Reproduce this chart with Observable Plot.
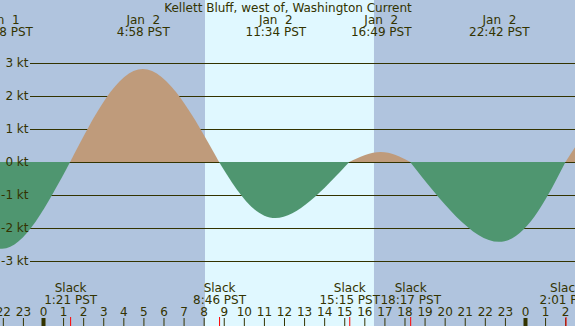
<!DOCTYPE html>
<html><head><meta charset="utf-8">
<script src="https://cdn.jsdelivr.net/npm/d3@7"></script>
<script src="https://cdn.jsdelivr.net/npm/@observablehq/plot@0.6"></script>
<style>
html,body{margin:0;padding:0;background:#b0c4de;overflow:hidden}
svg text{white-space:pre}
</style></head><body><div id="chart"></div>
<script>
const title = "Kellett Bluff, west of, Washington Current";
// hours relative to Jan 2 00:00 PST; slack = 0 kt, alternating with maxima
const eventHours  = [-5.1, -2.033, 1.35, 4.967, 8.767, 11.567, 15.25, 16.817, 18.283, 22.7, 26.017, 29.6, 33.0];
const eventValues = [0, -2.63, 0, 2.82, 0, -1.70, 0, 0.30, 0, -2.42, 0, 2.3, 0];
const maxDates = ["Jan  1", "Jan  2", "Jan  2", "Jan  2", "Jan  2"];
const maxTimes = ["21:58 PST", "4:58 PST", "11:34 PST", "16:49 PST", "22:42 PST"];
const maxHours = [-2.033, 4.967, 11.567, 16.817, 22.7];
const slackTimes = ["1:21 PST", "8:46 PST", "15:15 PST", "18:17 PST", "2:01 PST"];
const slackHours = [1.35, 8.767, 15.25, 18.283, 26.017];
const sunrise = 8.066, sunset = 16.48;
const yTicks = [3, 2, 1, 0, -1, -2, -3];
const hourTicks = [-2,-1,0,1,2,3,4,5,6,7,8,9,10,11,12,13,14,15,16,17,18,19,20,21,22,23,24,25,26];
const midnights = [0, 24];

const INK = "#333300";
const FLOOD = "#bf9b7b", EBB = "#4f9670", NIGHT = "#b0c4de", DAY = "#e0f8ff";

// build lobes: slack -> max -> slack
const lobes = [];
for (let j = 1; j < eventHours.length - 1; j += 2) {
  for (const k of [j - 1, j, j + 1]) {
    lobes.push({lobe: j, kind: eventValues[j] > 0 ? "flood" : "ebb", h: eventHours[k], v: eventValues[k]});
  }
}

const T = {fill: INK, fontSize: 12, lineAnchor: "middle"};
const pxPerHour = 20.083;
const chart = Plot.plot({
  width: 575, height: 326,
  marginLeft: 0, marginRight: 0, marginTop: 0, marginBottom: 0,
  x: {domain: [-43 / pxPerHour, 532 / pxPerHour], axis: null},
  y: {domain: [-164 / 33, 162 / 33], axis: null},
  style: {fontFamily: "DejaVu Sans", fontSize: "12px", color: INK, background: NIGHT, overflow: "hidden"},
  marks: [
    Plot.rect([{x1: sunrise, x2: sunset}], {x1: "x1", x2: "x2", fill: DAY}),
    Plot.ruleY(yTicks, {y: d => d, stroke: INK, insetLeft: 30}),
    Plot.areaY(lobes, {filter: d => d.kind === "flood", x: "h", y: "v", z: "lobe", fill: FLOOD, curve: "natural"}),
    Plot.areaY(lobes, {filter: d => d.kind === "ebb", x: "h", y: "v", z: "lobe", fill: EBB, curve: "natural"}),
    Plot.text(yTicks, {...T, y: d => d, text: d => `${d} kt`, frameAnchor: "left", dx: 28, textAnchor: "end"}),
    Plot.text([title], {...T, text: d => d, frameAnchor: "top", dy: 7.3}),
    Plot.text(maxHours, {...T, x: d => d, text: (d, i) => maxDates[i], frameAnchor: "top", dy: 19.3}),
    Plot.text(maxHours, {...T, x: d => d, text: (d, i) => maxTimes[i], frameAnchor: "top", dy: 31.7}),
    Plot.text(slackHours, {...T, x: d => d, text: () => "Slack", frameAnchor: "bottom", dy: -38.7}),
    Plot.text(slackHours, {...T, x: d => d, text: (d, i) => slackTimes[i], frameAnchor: "bottom", dy: -26.7}),
    Plot.text(hourTicks, {...T, x: d => d, text: d => String(((d % 24) + 24) % 24), frameAnchor: "bottom", dy: -14.3}),
    Plot.tickX(hourTicks.filter(h => !midnights.includes(h)), {x: d => d, stroke: INK, insetTop: 318}),
    Plot.tickX(midnights, {x: d => d, stroke: INK, strokeWidth: 4, insetTop: 318}),
    Plot.tickX(slackHours, {x: d => d, stroke: "red", insetTop: 317})
  ]
});
document.getElementById("chart").appendChild(chart);
</script></body></html>
